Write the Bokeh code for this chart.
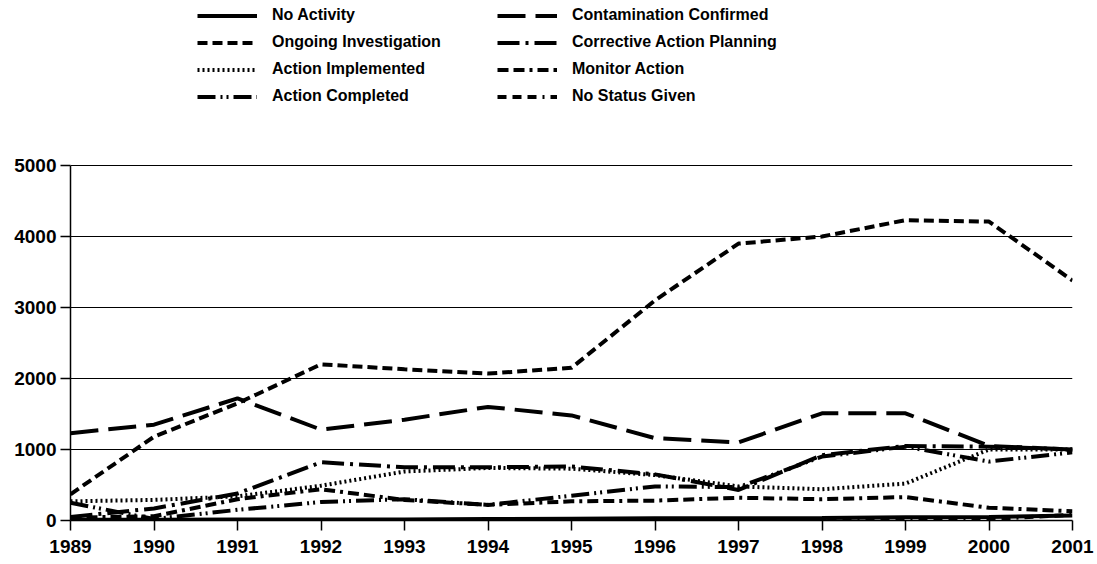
from bokeh.plotting import figure
from bokeh.models import Range1d, FixedTicker, Legend, LegendItem
from bokeh.embed import file_html
from bokeh.resources import INLINE

years = [1989, 1990, 1991, 1992, 1993, 1994, 1995, 1996, 1997, 1998, 1999, 2000, 2001]

no_activity = [10, 10, 15, 15, 15, 20, 25, 30, 30, 35, 45, 50, 70]
ongoing_investigation = [370, 1180, 1650, 2200, 2130, 2070, 2150, 3100, 3900, 4000, 4230, 4210, 3380]
action_implemented = [270, 290, 340, 490, 690, 740, 730, 640, 480, 440, 520, 1000, 1000]
action_completed = [250, 20, 150, 260, 300, 220, 350, 480, 470, 900, 1040, 830, 960]
contamination_confirmed = [1230, 1350, 1720, 1280, 1420, 1600, 1480, 1160, 1100, 1510, 1510, 1050, 1000]
corrective_action_planning = [50, 170, 380, 820, 750, 750, 760, 650, 430, 920, 1050, 1040, 1000]
monitor_action = [40, 60, 300, 440, 290, 220, 270, 280, 320, 300, 330, 180, 130]
no_status_given = [0, 0, 0, 0, 0, 0, 0, 0, 5, 10, 10, 20, 80]

y_ticks = [0, 1000, 2000, 3000, 4000, 5000]
y_max = 5000

# frame spans the whole height so the legend (drawn in the frame) sits above the data area
W, H = 1097, 564
frame_bottom_px, data_top_px = 520, 165
y_top = y_max * frame_bottom_px / (frame_bottom_px - data_top_px)

p = figure(width=W, height=H, output_backend="svg", toolbar_location=None,
           x_range=Range1d(years[0], years[-1]), y_range=Range1d(0, y_top),
           min_border_left=70, min_border_right=25, min_border_top=0, min_border_bottom=H - frame_bottom_px)
p.outline_line_color = None
p.background_fill_color = "white"

series = [
    ("No Activity", no_activity, None, 4),
    ("Ongoing Investigation", ongoing_investigation, "10 5", 4),
    ("Action Implemented", action_implemented, "2 3", 4),
    ("Action Completed", action_completed, "18 5 2 4 2 5", 4),
    ("Contamination Confirmed", contamination_confirmed, "28 10", 4),
    ("Corrective Action Planning", corrective_action_planning, "22 6 3 6", 4),
    ("Monitor Action", monitor_action, "11 5 11 5 3 5", 4),
    ("No Status Given", no_status_given, "9 6 9 6 9 6 2 6", 4),
]

items = []
for name, vals, dash, w in series:
    kw = dict(line_color="black", line_width=w)
    if dash:
        kw["line_dash"] = dash
    r = p.line(years, vals, **kw)
    items.append(LegendItem(label=name, renderers=[r]))

def make_legend(its, loc):
    lg = Legend(items=its, location=loc, orientation="vertical")
    lg.glyph_width = 60
    lg.glyph_height = 13
    lg.label_height = 13
    lg.spacing = 9
    lg.padding = 0
    lg.margin = 0
    lg.label_standoff = 15
    lg.label_text_font = "Liberation Sans"
    lg.label_text_font_style = "bold"
    lg.label_text_font_size = "16px"
    lg.label_text_color = "black"
    lg.border_line_color = None
    lg.background_fill_alpha = 0
    return lg

p.add_layout(make_legend(items[:4], (127, 415)))
p.add_layout(make_legend(items[4:], (427, 415)))

# axes
p.xaxis.ticker = FixedTicker(ticks=years)
p.yaxis.ticker = FixedTicker(ticks=y_ticks)
p.yaxis.bounds = (0, y_max)
for ax in (p.xaxis[0], p.yaxis[0]):
    ax.axis_line_color = "black"
    ax.axis_line_width = 1.5
    ax.major_tick_line_color = "black"
    ax.major_tick_line_width = 1.5
    ax.major_tick_in = 0
    ax.minor_tick_line_color = None
    ax.major_label_text_font = "Liberation Sans"
    ax.major_label_text_font_style = "bold"
    ax.major_label_text_font_size = "19px"
    ax.major_label_text_color = "black"
p.xaxis.major_tick_out = 10
p.xaxis.major_label_standoff = 9
p.yaxis.major_tick_out = 10
p.yaxis.major_label_standoff = 4

p.xgrid.grid_line_color = None
p.ygrid.grid_line_color = "black"
p.ygrid.grid_line_width = 1
p.ygrid.bounds = (0, y_max)

open("out.html", "w").write(file_html(p, INLINE))
